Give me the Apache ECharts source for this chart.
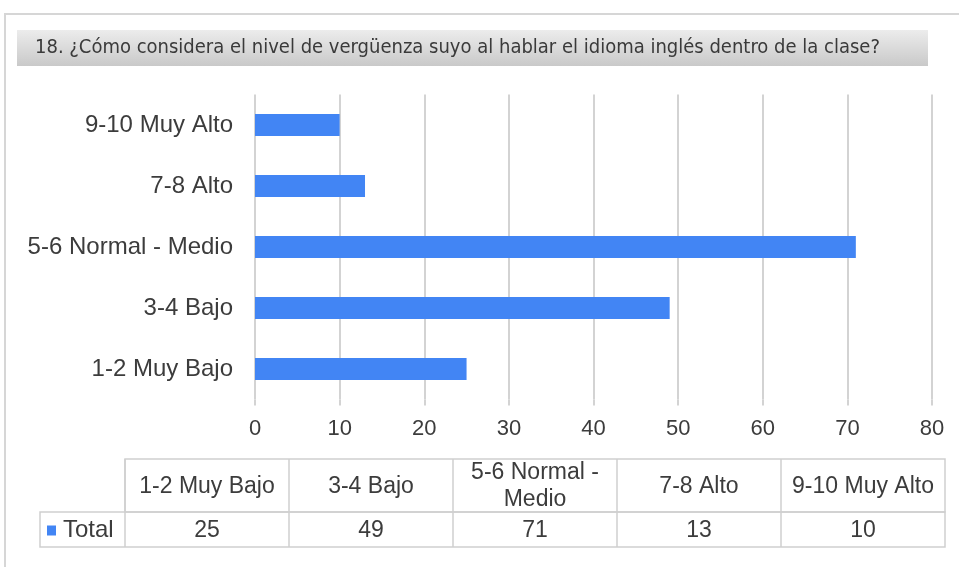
<!DOCTYPE html>
<html><head><meta charset="utf-8">
<script src="https://cdn.jsdelivr.net/npm/echarts@6/dist/echarts.min.js"></script>
<style>html,body{margin:0;padding:0;background:#fff}#c{width:959px;height:567px}</style>
</head><body><div id="c"></div>
<script>
const titleText = "18. ¿Cómo considera el nivel de vergüenza suyo al hablar el idioma inglés dentro de la clase?";
const categories = ["1-2 Muy Bajo", "3-4 Bajo", "5-6 Normal - Medio", "7-8 Alto", "9-10 Muy Alto"];
const tableHeaders = ["1-2 Muy Bajo", "3-4 Bajo", "5-6 Normal -\nMedio", "7-8 Alto", "9-10 Muy Alto"];
const seriesName = "Total";
const values = [25, 49, 71, 13, 10];
const xTicks = [0, 80, 10];

const chart = echarts.init(document.getElementById('c'), null, {renderer: 'canvas'});
const font = "'Liberation Sans', Arial, sans-serif";
const barColor = '#4285F4';
const lineColor = '#d3d3d3';
const txt = '#3c3c3c';

const tblX0 = 125, colW = 164, hdrTop = 459, hdrH = 53, rowH = 35, labelX0 = 40;
const g = [];
g.push({type:'polyline', shape:{points:[[5,567],[5,14],[959,14]]}, style:{stroke:'#d6d6d6', lineWidth:2, fill:null}});
g.push({type:'rect', shape:{x:17,y:30,width:911,height:36}, style:{fill:new echarts.graphic.LinearGradient(0,0,0,1,[{offset:0,color:'#ececec'},{offset:1,color:'#c9c9c9'}])}});
g.push({type:'text', style:{x:35, y:48, text:titleText, font:"20px 'DejaVu Sans Condensed', 'DejaVu Sans', sans-serif", fill:'#3a3a3a', verticalAlign:'middle'}});
const tableStroke = '#cfcfcf';
const nCols = tableHeaders.length;
g.push({type:'rect', shape:{x:tblX0,y:hdrTop,width:colW*nCols,height:hdrH}, style:{fill:null, stroke:tableStroke, lineWidth:1.5}});
g.push({type:'rect', shape:{x:labelX0,y:hdrTop+hdrH,width:tblX0-labelX0+colW*nCols,height:rowH}, style:{fill:null, stroke:tableStroke, lineWidth:1.5}});
for (let i = 1; i <= nCols; i++) {
  g.push({type:'line', shape:{x1:tblX0+colW*(i-1), y1:hdrTop, x2:tblX0+colW*(i-1), y2:hdrTop+hdrH+rowH}, style:{stroke:tableStroke, lineWidth:1.5}});
}
tableHeaders.forEach((h, i) => {
  g.push({type:'text', style:{x:tblX0+colW*i+colW/2, y:hdrTop+hdrH/2+1, text:h, font:"23px "+font, fill:txt, align:'center', verticalAlign:'middle', lineHeight:27}});
});
values.forEach((v, i) => {
  g.push({type:'text', style:{x:tblX0+colW*i+colW/2, y:hdrTop+hdrH+rowH/2+1, text:String(v), font:"23px "+font, fill:txt, align:'center', verticalAlign:'middle'}});
});
g.push({type:'rect', shape:{x:47,y:hdrTop+hdrH+rowH/2-4,width:9,height:10}, style:{fill:barColor}});
g.push({type:'text', style:{x:63, y:hdrTop+hdrH+rowH/2+1, text:seriesName, font:"24px "+font, fill:txt, verticalAlign:'middle'}});

chart.setOption({
  animation:false,
  backgroundColor:'#fff',
  grid:{left:255, right:27, top:94.5, bottom:167.5, containLabel:false},
  xAxis:{type:'value', min:xTicks[0], max:xTicks[1], interval:xTicks[2],
    axisLine:{show:false},
    axisTick:{show:true, length:6, lineStyle:{color:lineColor, width:2}},
    splitLine:{show:true, lineStyle:{color:lineColor, width:2}},
    axisLabel:{color:txt, fontSize:22, fontFamily:font, margin:18}},
  yAxis:{type:'category', data:categories,
    axisLine:{show:false}, axisTick:{show:false},
    axisLabel:{color:txt, fontSize:24, fontFamily:font, margin:22, padding:[2,0,0,0]}},
  series:[{type:'bar', name:seriesName, data:values, barWidth:22, itemStyle:{color:barColor}}],
  graphic:g
});
</script></body></html>
